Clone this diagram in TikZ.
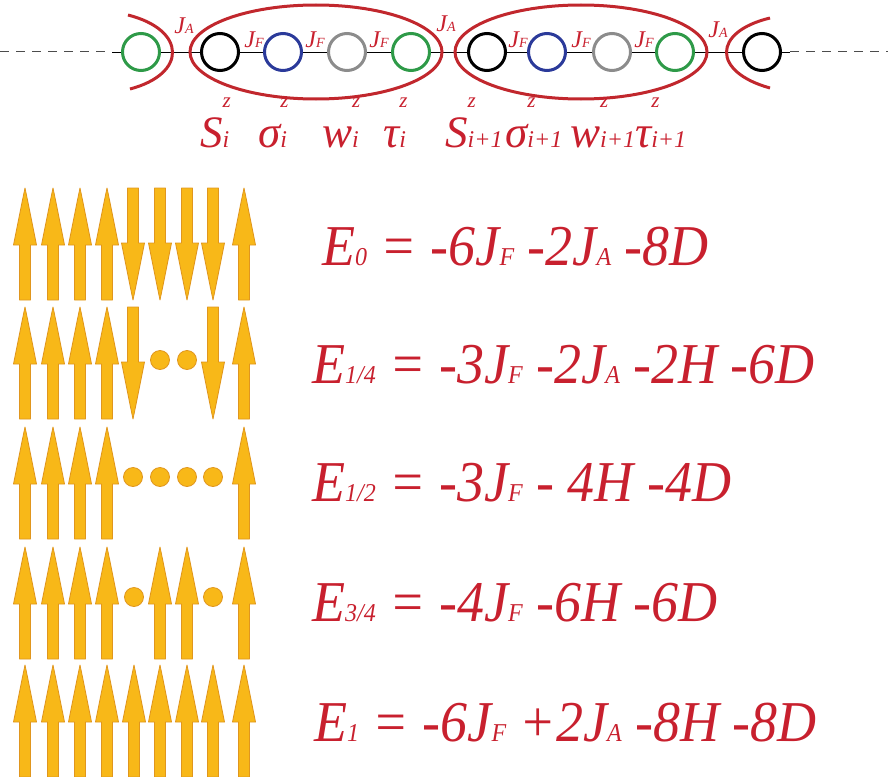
\documentclass[tikz,border=0pt]{standalone}
\usepackage{graphicx}
\usepackage{fontspec}
\setmainfont{Liberation Serif}
\definecolor{txtred}{HTML}{C8202E}
\definecolor{ringred}{HTML}{C1272D}
\definecolor{sgreen}{HTML}{2E9A48}
\definecolor{sblue}{HTML}{2B3A9A}
\definecolor{sgray}{HTML}{8C8C8C}
\definecolor{arrfill}{HTML}{F8B818}
\definecolor{arrline}{HTML}{E0961E}
\newcommand\eqsub[1]{{\fontsize{24}{24}\selectfont #1}}
\newcommand\eqline[1]{\scalebox{1}[1.07]{#1}}
\newcommand\jsub[1]{{\fontsize{14}{14}\selectfont #1}}
\newcommand\tlab[3]{#1\makebox[0pt][l]{\raisebox{40pt}{\fontsize{21}{21}\selectfont #3}}{\fontsize{24}{24}\selectfont #2}}
\begin{document}
\begin{tikzpicture}[x=1pt,y=-1pt,
  site/.style={circle, draw, line width=3pt, minimum size=37pt, inner sep=0pt, fill=white},
  ring/.style={draw=ringred, line width=3pt},
  bond/.style={line width=0.9pt},
  tail/.style={line width=1pt, dashed, dash pattern=on 9pt off 7pt, gray!60!black},
  jlab/.style={text=txtred, font=\fontsize{24}{24}\selectfont\itshape, inner sep=0pt},
  slab/.style={text=txtred, font=\fontsize{45}{45}\selectfont\itshape, inner sep=0pt, anchor=base west},
  eqn/.style={text=txtred, font=\fontsize{54}{54}\selectfont\itshape, inner sep=0pt, anchor=base west},
  spinarr/.style={fill=arrfill, draw=arrline, line width=0.8pt, line join=round},
  dotspin/.style={circle, fill=arrfill, draw=arrline, line width=0.8pt, minimum size=19pt, inner sep=0pt},
  upspin/.pic={\draw[spinarr] (0,0) -- (2.5,12) -- (11.5,57) -- (5.5,57) -- (5.5,112) -- (-5.5,112) -- (-5.5,57) -- (-11.5,57) -- (-2.5,12) -- cycle;},
  downspin/.pic={\draw[spinarr] (-5.5,0) -- (5.5,0) -- (5.5,55) -- (11.5,55) -- (2.5,100) -- (0,112) -- (-2.5,100) -- (-11.5,55) -- (-5.5,55) -- cycle;}
]
\useasboundingbox (0,0) rectangle (888,776);

% chain
\coordinate (lend) at (0,52);
\coordinate (rend) at (888,52);
\node[site, draw=sgreen] (c1) at (141,52) {};
\node[site, draw=black] (c2) at (220,52) {};
\node[site, draw=sblue] (c3) at (283,52) {};
\node[site, draw=sgray] (c4) at (347,52) {};
\node[site, draw=sgreen] (c5) at (411,52) {};
\node[site, draw=black] (c6) at (487,52) {};
\node[site, draw=sblue] (c7) at (547,52) {};
\node[site, draw=sgray] (c8) at (612,52) {};
\node[site, draw=sgreen] (c9) at (675,52) {};
\node[site, draw=black] (c10) at (762,52) {};
\coordinate (ls) at (112,52);
\coordinate (rs) at (790,52);
\draw[tail] (lend) -- (ls);
\draw[bond] (ls) -- (c1);
\draw[tail] (rs) -- (rend);
\draw[bond] (c10) -- (rs);
\foreach \a/\b in {c1/c2,c2/c3,c3/c4,c4/c5,c5/c6,c6/c7,c7/c8,c8/c9,c9/c10}
  \draw[bond] (\a) -- (\b);

% rings
\draw[ring] (316,52) ellipse [x radius=126, y radius=47];
\draw[ring] (581,52) ellipse [x radius=126, y radius=47];
\draw[ring] (128,15) .. controls (187,30) and (187,74) .. (130,89);
\draw[ring] (770,18) .. controls (712,32) and (712,72) .. (770,88);

% coupling labels
\node[jlab] (ja1) at (184,26) {J\jsub{A}};
\node[jlab] (ja2) at (446,24) {J\jsub{A}};
\node[jlab] (ja3) at (718,30) {J\jsub{A}};
\node[jlab] (jf1) at (254,40) {J\jsub{F}};
\node[jlab] (jf2) at (315,40) {J\jsub{F}};
\node[jlab] (jf3) at (379,40) {J\jsub{F}};
\node[jlab] (jf4) at (518,40) {J\jsub{F}};
\node[jlab] (jf5) at (581,40) {J\jsub{F}};
\node[jlab] (jf6) at (644,40) {J\jsub{F}};

% site labels
\node[slab] (l1) at (200,147) {\tlab{S}{i}{z}};
\node[slab] (l2) at (258,147) {\tlab{σ}{i}{z}};
\node[slab] (l3) at (322,147) {\tlab{w}{i}{z}};
\node[slab] (l4) at (383,147) {\tlab{τ}{i}{z}};
\node[slab] (l5) at (445,147) {\tlab{S}{i+1}{z}};
\node[slab] (l6) at (505,147) {\tlab{σ}{i+1}{z}};
\node[slab] (l7) at (570,147) {\tlab{w}{i+1}{z}};
\node[slab] (l8) at (635,147) {\tlab{τ}{i+1}{z}};

% spin rows
% row 1
\foreach \x in {25,53,80,107,244} \pic at (\x,188) {upspin};
\foreach \x in {133,160,187,213} \pic at (\x,188) {downspin};
% row 2
\foreach \x in {25,53,80,107,244} \pic at (\x,307) {upspin};
\foreach \x in {133,213} \pic at (\x,307) {downspin};
\node[dotspin] (d21) at (160,360) {};
\node[dotspin] (d22) at (187,360) {};
% row 3
\foreach \x in {25,53,80,107,244} \pic at (\x,427) {upspin};
\node[dotspin] (d31) at (133,477) {};
\node[dotspin] (d32) at (160,477) {};
\node[dotspin] (d33) at (187,477) {};
\node[dotspin] (d34) at (213,477) {};
% row 4
\foreach \x in {25,53,80,107,160,187,244} \pic at (\x,547) {upspin};
\node[dotspin] (d41) at (134,597) {};
\node[dotspin] (d42) at (213,597) {};
% row 5
\foreach \x in {25,53,80,107,134,160,187,213,244} \pic at (\x,665) {upspin};

% energies
\node[eqn] (e0) at (322,265) {\eqline{E\eqsub{0} = -6J\eqsub{F} -2J\eqsub{A} -8D}};
\node[eqn] (e1) at (312,383) {\eqline{E\eqsub{1/4} = -3J\eqsub{F} -2J\eqsub{A} -2H -6D}};
\node[eqn] (e2) at (312,501) {\eqline{E\eqsub{1/2} = -3J\eqsub{F} - 4H -4D}};
\node[eqn] (e3) at (312,621) {\eqline{E\eqsub{3/4} = -4J\eqsub{F} -6H -6D}};
\node[eqn] (e4) at (314,741) {\eqline{E\eqsub{1} = -6J\eqsub{F} +2J\eqsub{A} -8H -8D}};
\end{tikzpicture}
\end{document}
